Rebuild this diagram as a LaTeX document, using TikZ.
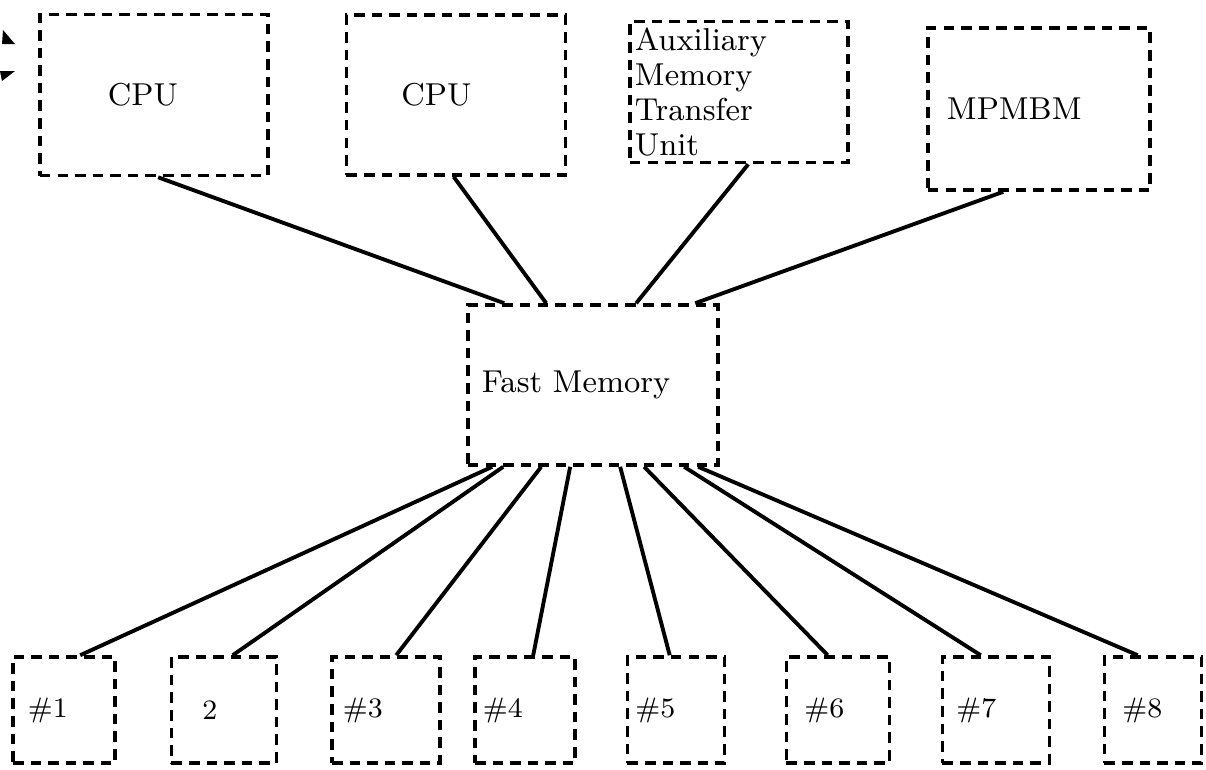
\documentclass[tikz,border=0pt]{standalone}
\usepackage{xcolor}
\usepackage{tikz}
\usetikzlibrary{calc}
\usetikzlibrary{arrows.meta}
\usetikzlibrary{positioning}
\tikzstyle{box} = [draw = black, densely dashed, line width = 1pt, align = left, inner ysep = 0, font = \fontsize{9}{10}\selectfont]
\tikzstyle{slot} = [box, font = \fontsize{8}{9}\selectfont, minimum height = 1.06cm]
\tikzstyle{link} = [-, draw = black, line width = 1.1pt]

\begin{document}
\begin{tikzpicture}[x = 0.01cm, y = -0.01cm]
\useasboundingbox (0, 0) rectangle (1206, 769);
%\node [draw=none] at (600, 5) {top row};
\node [box, text width = .92cm, inner xsep = .68cm, minimum height = 1.61cm] (CPU1) at (154, 95) {CPU};
\node [box, text width = 1.09cm, inner xsep = .55cm, minimum height = 1.60cm] (CPU2) at (456, 95) {CPU};
\node [box, text width = 2.08cm, inner xsep = .05cm, minimum height = 1.41cm] (AMTU) at (739, 92) {Auxiliary\\Memory\\Transfer\\Unit};
\node [box, text width = 1.84cm, inner xsep = .19cm, minimum height = 1.62cm] (MPMBM) at (1039, 109) {MPMBM};
\node [box, text width = 2.22cm, inner xsep = .14cm, minimum height = 1.60cm] (FM) at (593, 385) {Fast Memory};
% bottom row
\node [slot, text width = .72cm, inner xsep = .15cm] (B1) at (64, 710) {\#1};
\node [slot, text width = .43cm, inner xsep = .31cm] (B2) at (224, 710) {2};
\node [slot, text width = .86cm, inner xsep = .11cm] (B3) at (386, 710) {\#3};
\node [slot, text width = .84cm, inner xsep = .08cm] (B4) at (525, 710) {\#4};
\node [slot, text width = .81cm, inner xsep = .08cm] (B5) at (676, 710) {\#5};
\node [slot, text width = .67cm, inner xsep = .18cm] (B6) at (838, 710) {\#6};
\node [slot, text width = .79cm, inner xsep = .14cm] (B7) at (996, 710) {\#7};
\node [slot, text width = .61cm, inner xsep = .18cm] (B8) at (1153, 710) {\#8};
\fill [black] (3, 30) -- (2, 44) -- (15, 44) -- cycle;
\fill [black] (0, 71) -- (15, 71) -- (2, 81) -- cycle;
\draw [link] ($(CPU1.south west) + (120, 0)$) to ($(FM.north west) + (38, 0)$);
\draw [link] ($(CPU2.south west) + (109, 0)$) to ($(FM.north west) + (80, 0)$);
\draw [link] ($(AMTU.south west) + (120, 0)$) to ($(FM.north west) + (170, 0)$);
\draw [link] ($(MPMBM.south west) + (77, 0)$) to ($(FM.north west) + (229, 0)$);
\draw [link] ($(FM.south west) + (26, 0)$) to ($(B1.north west) + (69, 0)$);
\draw [link] ($(FM.south west) + (37, 0)$) to ($(B2.north west) + (63, 0)$);
\draw [link] ($(FM.south west) + (75, 0)$) to ($(B3.north west) + (66, 0)$);
\draw [link] ($(FM.south west) + (104, 0)$) to ($(B4.north west) + (60, 0)$);
\draw [link] ($(FM.south west) + (154, 0)$) to ($(B5.north west) + (44, 0)$);
\draw [link] ($(FM.south west) + (178, 0)$) to ($(B6.north west) + (43, 0)$);
\draw [link] ($(FM.south west) + (218, 0)$) to ($(B7.north west) + (40, 0)$);
\draw [link] ($(FM.south west) + (232, 0)$) to ($(B8.north west) + (35, 0)$);
\end{tikzpicture}
\end{document}
